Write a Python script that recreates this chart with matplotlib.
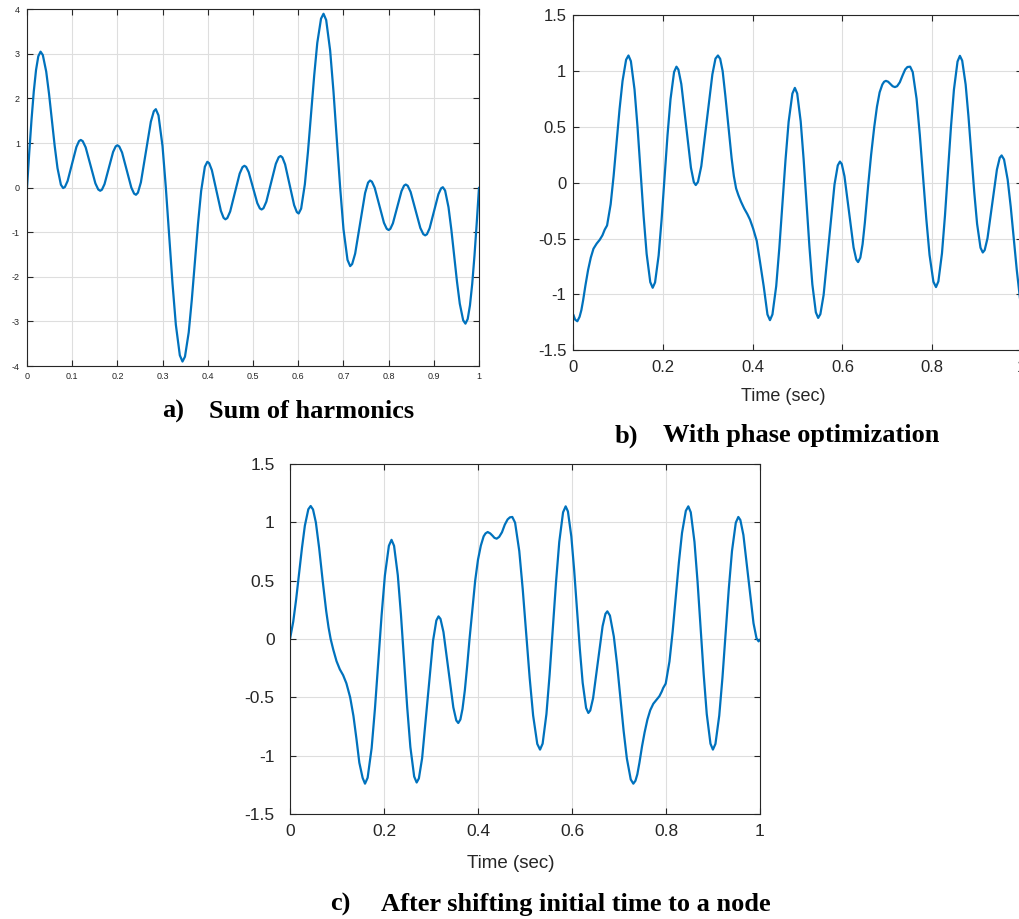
import matplotlib
matplotlib.use("Agg")
import matplotlib.pyplot as plt

W, H = 1019, 919
LINE_COLOR = "#0072BD"
TEXT_COLOR = "#262626"
GRID_COLOR = "#dedede"

# ---- a) sum of harmonics ----
a_t = [0.000, 0.005, 0.010, 0.015, 0.020, 0.025, 0.030, 0.035, 0.0425, 0.04875,
       0.055, 0.06125, 0.0675, 0.075, 0.080, 0.0839, 0.0898, 0.0995, 0.1093, 0.1151,
       0.119, 0.1233, 0.1298, 0.1405, 0.1513, 0.1577, 0.162, 0.1658, 0.1715, 0.181,
       0.1905, 0.1962, 0.200, 0.2041, 0.2103, 0.2205, 0.2308, 0.2369, 0.241, 0.2454,
       0.252, 0.263, 0.274, 0.2806, 0.285, 0.2909, 0.2998, 0.3071, 0.3145, 0.3219,
       0.3293, 0.3381, 0.344, 0.3495, 0.3578, 0.3646, 0.3715, 0.3784, 0.3853, 0.3935,
       0.399, 0.403, 0.409, 0.419, 0.429, 0.435, 0.439, 0.4432, 0.4495, 0.460,
       0.4705, 0.4768, 0.481, 0.4848, 0.4905, 0.500,
       0.5095, 0.5152, 0.519, 0.5232, 0.5295, 0.540, 0.5505, 0.5568, 0.561, 0.565,
       0.571, 0.581, 0.591, 0.597, 0.601, 0.6065, 0.6147, 0.6216, 0.6285, 0.6354,
       0.6422, 0.6505, 0.656, 0.6619, 0.6707, 0.6781, 0.6855, 0.6929, 0.7002, 0.7091,
       0.715, 0.7194, 0.726, 0.737, 0.748, 0.7546, 0.759, 0.7631, 0.7692, 0.7795,
       0.7897, 0.7959, 0.800, 0.8038, 0.8095, 0.819, 0.8285, 0.8342, 0.838, 0.8423,
       0.8487, 0.8595, 0.8702, 0.8767, 0.881, 0.8849, 0.8907, 0.9005, 0.9102, 0.9161,
       0.920, 0.925, 0.9325, 0.93875, 0.945, 0.95125, 0.9575, 0.965, 0.970, 0.975,
       0.980, 0.985, 0.990, 0.995, 1.000]
a_y = [0.00, 0.79, 1.525, 2.157, 2.64, 2.946, 3.05, 2.975, 2.603, 2.104,
       1.52, 0.936, 0.437, 0.065, -0.01, 0.016, 0.148, 0.53, 0.912, 1.044,
       1.07, 1.042, 0.904, 0.50, 0.096, -0.042, -0.07, -0.045, 0.079, 0.44,
       0.801, 0.925, 0.95, 0.923, 0.788, 0.395, 0.002, -0.133, -0.16, -0.113,
       0.12, 0.80, 1.48, 1.713, 1.76, 1.621, 0.934, 0.01, -1.07, -2.15,
       -3.074, -3.76, -3.90, -3.79, -3.246, -2.516, -1.66, -0.804, -0.074, 0.47,
       0.58, 0.548, 0.392, -0.065, -0.522, -0.678, -0.71, -0.681, -0.535, -0.11,
       0.315, 0.461, 0.49, 0.466, 0.347, 0.00,
       -0.347, -0.466, -0.49, -0.461, -0.315, 0.11, 0.535, 0.681, 0.71, 0.678,
       0.522, 0.065, -0.392, -0.548, -0.58, -0.47, 0.074, 0.804, 1.66, 2.516,
       3.246, 3.79, 3.90, 3.76, 3.074, 2.15, 1.07, -0.01, -0.934, -1.621,
       -1.76, -1.713, -1.48, -0.80, -0.12, 0.113, 0.16, 0.133, -0.002, -0.395,
       -0.788, -0.923, -0.95, -0.925, -0.801, -0.44, -0.079, 0.045, 0.07, 0.042,
       -0.096, -0.50, -0.904, -1.042, -1.07, -1.044, -0.912, -0.53, -0.148, -0.016,
       0.01, -0.065, -0.437, -0.936, -1.52, -2.104, -2.603, -2.975, -3.05, -2.946,
       -2.64, -2.157, -1.525, -0.79, 0.00]

# ---- b) with phase optimization ----
b_t = [0.000, 0.004, 0.009, 0.014, 0.018, 0.022, 0.027, 0.033, 0.039, 0.045,
       0.052, 0.059, 0.065, 0.070, 0.0753, 0.0833, 0.0899, 0.0965, 0.1031, 0.1098,
       0.1177, 0.123, 0.1284, 0.1365, 0.14325, 0.150, 0.15675, 0.1635, 0.1716, 0.177,
       0.1823, 0.1903, 0.1969, 0.2035, 0.2101, 0.2168, 0.2247, 0.230, 0.2343, 0.2408,
       0.2515, 0.2623, 0.2687, 0.273, 0.278, 0.2854, 0.2978, 0.3101, 0.317, 0.3225,
       0.3275, 0.333, 0.339, 0.346, 0.353, 0.358, 0.363, 0.368, 0.374, 0.381,
       0.388, 0.394, 0.401, 0.409, 0.416, 0.4245, 0.4329, 0.4385, 0.444, 0.4524,
       0.4593, 0.4663, 0.4732, 0.4801, 0.4885, 0.494, 0.4992, 0.507, 0.5135, 0.520,
       0.5265, 0.533, 0.5408, 0.546, 0.5509, 0.5581, 0.5703, 0.5824, 0.5897, 0.5945,
       0.5986, 0.6046, 0.6148, 0.6249, 0.631, 0.635, 0.640, 0.645, 0.650, 0.654,
       0.658, 0.664, 0.671, 0.677, 0.683, 0.689, 0.693, 0.697, 0.702, 0.707,
       0.712, 0.717, 0.722, 0.728, 0.734, 0.740, 0.745, 0.751, 0.7568, 0.7654,
       0.7726, 0.7799, 0.7871, 0.7943, 0.8029, 0.8087, 0.814, 0.822, 0.8287, 0.8354,
       0.842, 0.8487, 0.8567, 0.862, 0.8671, 0.8748, 0.8811, 0.8875, 0.8939, 0.9003,
       0.9079, 0.913, 0.9172, 0.9235, 0.934, 0.9445, 0.9508, 0.955, 0.9604, 0.9685,
       0.9753, 0.982, 0.9888, 0.9955, 1.000]
b_y = [-1.18, -1.225, -1.24, -1.20, -1.14, -1.05, -0.92, -0.78, -0.67, -0.59,
       -0.545, -0.51, -0.47, -0.42, -0.382, -0.192, 0.062, 0.36, 0.658, 0.912,
       1.102, 1.14, 1.089, 0.836, 0.497, 0.10, -0.297, -0.636, -0.889, -0.94,
       -0.892, -0.65, -0.328, 0.05, 0.428, 0.75, 0.992, 1.04, 1.014, 0.885,
       0.51, 0.135, 0.006, -0.02, 0.008, 0.149, 0.56, 0.971, 1.112, 1.14,
       1.11, 1.00, 0.78, 0.50, 0.22, 0.06, -0.05, -0.11, -0.17, -0.23,
       -0.28, -0.33, -0.41, -0.52, -0.70, -0.926, -1.179, -1.23, -1.179, -0.926,
       -0.587, -0.19, 0.207, 0.546, 0.799, 0.85, 0.80, 0.55, 0.213, -0.18,
       -0.573, -0.91, -1.16, -1.21, -1.176, -1.005, -0.51, -0.015, 0.156, 0.19,
       0.168, 0.059, -0.26, -0.579, -0.688, -0.71, -0.67, -0.55, -0.36, -0.18,
       0.00, 0.25, 0.50, 0.68, 0.81, 0.88, 0.905, 0.913, 0.905, 0.885,
       0.865, 0.857, 0.865, 0.90, 0.96, 1.015, 1.037, 1.04, 0.992, 0.752,
       0.43, 0.053, -0.324, -0.646, -0.886, -0.934, -0.883, -0.632, -0.294, 0.102,
       0.497, 0.835, 1.086, 1.137, 1.094, 0.88, 0.593, 0.257, -0.08, -0.367,
       -0.581, -0.624, -0.603, -0.497, -0.19, 0.118, 0.224, 0.245, 0.209, 0.028,
       -0.214, -0.498, -0.781, -1.023, -1.16]

# ---- c) after shifting initial time to a node ----
c_t = [0.000, 0.0069, 0.013, 0.0193, 0.0255, 0.0316, 0.039, 0.044, 0.049, 0.055,
       0.062, 0.0695, 0.077, 0.082, 0.0865, 0.092, 0.099, 0.106, 0.113, 0.120,
       0.128, 0.135, 0.1415, 0.1475, 0.1545, 0.1596, 0.1652, 0.1737, 0.1808, 0.1878,
       0.1949, 0.2019, 0.2104, 0.216, 0.2214, 0.2294, 0.2361, 0.2428, 0.2494, 0.2561,
       0.2642, 0.2695, 0.2742, 0.2811, 0.2928, 0.3044, 0.3114, 0.316, 0.3202, 0.3265,
       0.337, 0.3475, 0.3538, 0.358, 0.3625, 0.367, 0.372, 0.377, 0.382, 0.388,
       0.394, 0.400, 0.406, 0.412, 0.416, 0.4206, 0.426, 0.431, 0.435, 0.4397,
       0.445, 0.451, 0.457, 0.463, 0.468, 0.473, 0.4789, 0.4878, 0.4951, 0.5025,
       0.5099, 0.5173, 0.5261, 0.532, 0.5375, 0.5456, 0.5524, 0.5593, 0.5661, 0.5729,
       0.581, 0.5865, 0.5913, 0.5986, 0.6046, 0.6107, 0.6167, 0.6227, 0.630, 0.6348,
       0.6388, 0.6449, 0.655, 0.6651, 0.6712, 0.6752, 0.6807, 0.689, 0.696, 0.7029,
       0.7098, 0.7167, 0.725, 0.7305, 0.735, 0.739, 0.7435, 0.749, 0.7545, 0.7605,
       0.7665, 0.773, 0.780, 0.786, 0.791, 0.794, 0.7994, 0.8074, 0.8141, 0.8208,
       0.8274, 0.8341, 0.8422, 0.8475, 0.8527, 0.8606, 0.8671, 0.8737, 0.8802, 0.8867,
       0.8946, 0.8998, 0.9052, 0.9133, 0.9201, 0.9269, 0.9336, 0.9404, 0.9485, 0.9539,
       0.9582, 0.9647, 0.9754, 0.9862, 0.9926, 0.997, 1.000]
c_y = [0.00, 0.149, 0.338, 0.56, 0.782, 0.971, 1.112, 1.14, 1.11, 1.00,
       0.78, 0.50, 0.24, 0.10, 0.00, -0.09, -0.19, -0.26, -0.31, -0.38,
       -0.50, -0.66, -0.86, -1.06, -1.19, -1.24, -1.189, -0.935, -0.594, -0.195,
       0.204, 0.545, 0.799, 0.85, 0.799, 0.546, 0.207, -0.19, -0.587, -0.926,
       -1.179, -1.23, -1.195, -1.022, -0.518, -0.014, 0.159, 0.194, 0.172, 0.06,
       -0.263, -0.586, -0.698, -0.72, -0.69, -0.60, -0.44, -0.23, 0.00, 0.25,
       0.50, 0.68, 0.80, 0.88, 0.905, 0.917, 0.905, 0.885, 0.867, 0.86,
       0.875, 0.915, 0.98, 1.025, 1.043, 1.046, 0.997, 0.754, 0.43, 0.049,
       -0.332, -0.656, -0.899, -0.948, -0.897, -0.643, -0.304, 0.095, 0.493, 0.832,
       1.086, 1.137, 1.094, 0.878, 0.59, 0.252, -0.087, -0.375, -0.591, -0.634,
       -0.613, -0.507, -0.199, 0.11, 0.216, 0.237, 0.201, 0.021, -0.22, -0.502,
       -0.786, -1.024, -1.204, -1.24, -1.215, -1.16, -1.06, -0.92, -0.80, -0.69,
       -0.61, -0.555, -0.52, -0.49, -0.45, -0.42, -0.382, -0.192, 0.062, 0.359,
       0.656, 0.91, 1.099, 1.137, 1.086, 0.832, 0.493, 0.095, -0.304, -0.643,
       -0.897, -0.948, -0.899, -0.656, -0.332, 0.049, 0.43, 0.754, 0.997, 1.046,
       1.02, 0.891, 0.513, 0.135, 0.006, -0.02, -0.005]

a_xticks = [0, 0.1, 0.2, 0.3, 0.4, 0.5, 0.6, 0.7, 0.8, 0.9, 1]
a_xticklabels = ["0", "0.1", "0.2", "0.3", "0.4", "0.5", "0.6", "0.7", "0.8", "0.9", "1"]
a_yticks = [-4, -3, -2, -1, 0, 1, 2, 3, 4]
a_yticklabels = ["-4", "-3", "-2", "-1", "0", "1", "2", "3", "4"]
bc_xticks = [0, 0.2, 0.4, 0.6, 0.8, 1]
bc_xticklabels = ["0", "0.2", "0.4", "0.6", "0.8", "1"]
bc_yticks = [-1.5, -1, -0.5, 0, 0.5, 1, 1.5]
bc_yticklabels = ["-1.5", "-1", "-0.5", "0", "0.5", "1", "1.5"]

captions = [("a)", "Sum of harmonics"),
            ("b)", "With phase optimization"),
            ("c)", "After shifting initial time to a node")]


def px_box(left, top, right, bottom):
    return [left / W, 1 - bottom / H, (right - left) / W, (bottom - top) / H]


def style_axes(ax, size, xpad, ypad):
    ax.grid(True, color=GRID_COLOR, linewidth=0.8)
    ax.set_axisbelow(True)
    for sp in ax.spines.values():
        sp.set_color(TEXT_COLOR)
        sp.set_linewidth(0.8)
    ax.tick_params(direction="in", top=True, right=True, length=4, width=0.8,
                   color=TEXT_COLOR, labelcolor=TEXT_COLOR, labelsize=size)
    ax.tick_params(axis="x", pad=xpad)
    ax.tick_params(axis="y", pad=ypad)


def draw_curve(ax, t, y):
    ax.plot(t, y, color=LINE_COLOR, linewidth=1.6, solid_joinstyle="round",
            solid_capstyle="round")


plt.rcParams["font.family"] = ["Liberation Sans", "DejaVu Sans"]

fig = plt.figure(figsize=(W / 100, H / 100), dpi=100)

# a)
ax = fig.add_axes(px_box(27, 9.3, 479, 366))
draw_curve(ax, a_t, a_y)
ax.set_xlim(0, 1)
ax.set_ylim(-4, 4)
ax.set_xticks(a_xticks, a_xticklabels)
ax.set_yticks(a_yticks, a_yticklabels)
style_axes(ax, 6.5, 4, 5)

# b) (right edge runs just past the picture)
ax = fig.add_axes(px_box(573.3, 15.3, 1021.8, 350.3))
draw_curve(ax, b_t, b_y)
ax.set_xlim(0, 1)
ax.set_ylim(-1.5, 1.5)
ax.set_xticks(bc_xticks, bc_xticklabels)
ax.set_yticks(bc_yticks, bc_yticklabels)
ax.set_xlabel("Time (sec)", fontsize=13, color=TEXT_COLOR, va="center")
ax.xaxis.set_label_coords(0.4685, -0.137)
style_axes(ax, 12, 7, 5)

# c)
ax = fig.add_axes(px_box(290, 464, 760, 814))
draw_curve(ax, c_t, c_y)
ax.set_xlim(0, 1)
ax.set_ylim(-1.5, 1.5)
ax.set_xticks(bc_xticks, bc_xticklabels)
ax.set_yticks(bc_yticks, bc_yticklabels)
ax.set_xlabel("Time (sec)", fontsize=13.5, color=TEXT_COLOR, va="center")
ax.xaxis.set_label_coords(0.4687, -0.14)
style_axes(ax, 12.5, 7, 11)

# captions
cap_pos = [(162, 209, 411), (615, 663, 436), (330, 381, 904)]
for (lab, txt), (x0, x1, y) in zip(captions, cap_pos):
    for s, x in ((lab, x0), (txt, x1)):
        fig.text(x / W, 1 - y / H, s, fontfamily="Liberation Serif", fontweight="bold",
                 fontsize=19, ha="left", va="center", color="black")

fig.savefig("out.png", dpi=100)
